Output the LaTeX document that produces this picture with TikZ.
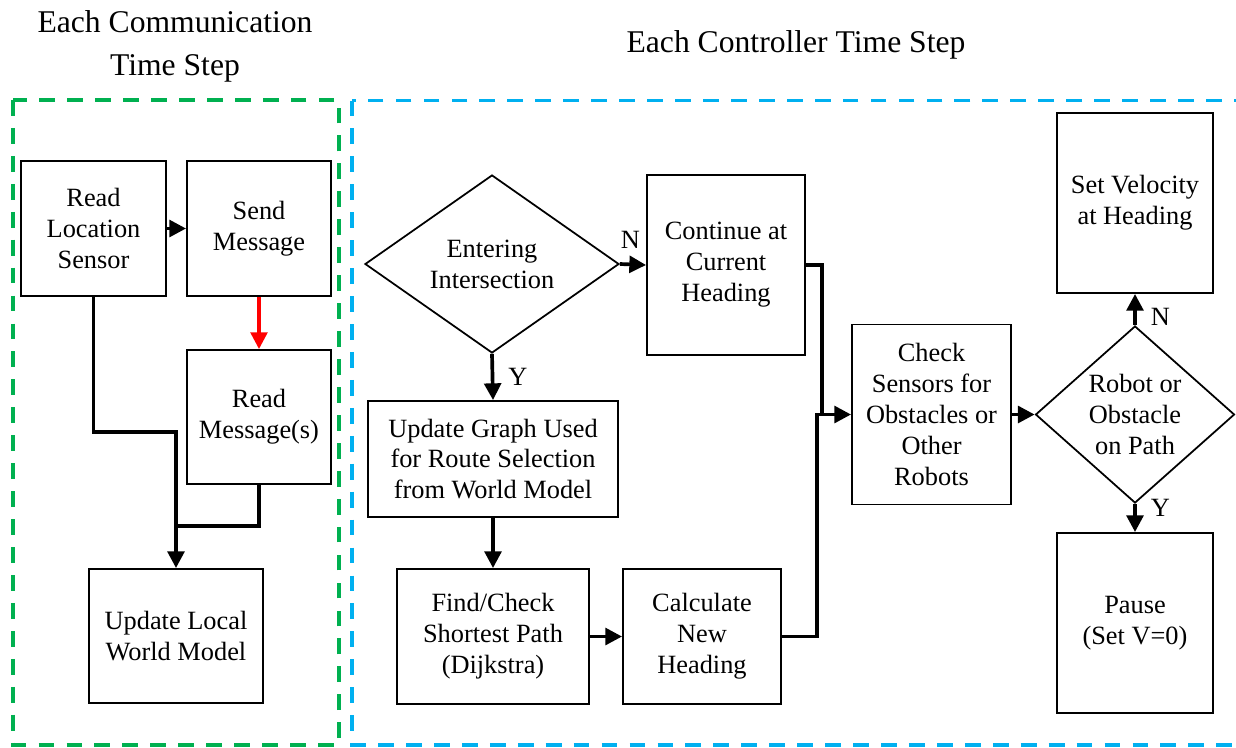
\documentclass[tikz,border=0pt]{standalone}
\usepackage{fontspec}
\setmainfont{Liberation Serif}
\usetikzlibrary{shapes.geometric}
\usetikzlibrary{arrows.meta}
\usetikzlibrary{positioning}
\definecolor{commgreen}{RGB}{0,176,80}
\definecolor{ctrlblue}{RGB}{0,176,240}

\begin{document}
\begin{tikzpicture}[
	box/.style={draw, line width=1.1pt, align=center, inner sep=0pt, font=\fontsize{15}{17.6}\selectfont},
	decision/.style={diamond, draw, line width=1pt, align=center, inner sep=0pt, font=\fontsize{15}{17.6}\selectfont},
	flow/.style={line width=2.1pt, -{Triangle[length=9.5pt,width=9.5pt]}},
	link/.style={line width=2.1pt},
	lbl/.style={inner sep=1pt, font=\fontsize{15}{18}\selectfont},
	title/.style={align=center, inner sep=0pt, font=\fontsize{18}{24.4}\selectfont},
	frame/.style={line width=2pt, dash pattern=on 9pt off 6.9pt}
	]
	\useasboundingbox (0,0) rectangle (24.72,-14.94);
	\clip (0,0) rectangle (24.72,-14.94);

	\draw [frame, commgreen] (0.26,-2.0) rectangle (6.78,-14.9);
	\draw [frame, ctrlblue] (7.04,-2.01) rectangle (25.2,-14.9);
	\node [title] (commtitle) at (3.5,-0.92) {Each Communication\\Time Step};
	\node [title] (ctrltitle) at (15.92,-0.89) {Each Controller Time Step};

	\node [box, minimum width=2.9cm, minimum height=2.7cm] (readloc) at (1.87,-4.57) {Read\\Location\\Sensor};
	\node [box, minimum width=2.88cm, minimum height=2.7cm] (sendmsg) at (5.18,-4.57) {Send\\Message};
	\node [box, minimum width=2.88cm, minimum height=2.68cm] (readmsg) at (5.18,-8.34) {Read\\Message(s)};
	\node [box, minimum width=3.48cm, minimum height=2.68cm] (updlocal) at (3.52,-12.72) {Update Local\\World Model};

	\node [decision, aspect=1.43, minimum width=5.08cm, minimum height=3.56cm] (enter) at (9.84,-5.28) {Entering\\Intersection};
	\node [box, minimum width=3.16cm, minimum height=3.6cm] (cont) at (14.52,-5.3) {Continue at\\Current\\Heading};
	\node [box, minimum width=5.0cm, minimum height=2.32cm] (updgraph) at (9.86,-9.18) {Update Graph Used\\for Route Selection\\from World Model};
	\node [box, minimum width=3.84cm, minimum height=2.7cm] (findpath) at (9.86,-12.73) {Find/Check\\Shortest Path\\(Dijkstra)};
	\node [box, minimum width=3.16cm, minimum height=2.7cm] (calc) at (14.04,-12.73) {Calculate\\New\\Heading};
	\node [box, minimum width=3.18cm, minimum height=3.6cm] (check) at (18.63,-8.29) {Check\\Sensors for\\Obstacles or\\Other\\Robots};
	\node [decision, aspect=1.12, minimum width=3.98cm, minimum height=3.54cm] (robot) at (22.7,-8.29) {Robot or\\Obstacle\\on Path};
	\node [box, minimum width=3.12cm, minimum height=3.6cm] (setvel) at (22.7,-4.06) {Set Velocity\\at Heading};
	\node [box, minimum width=3.12cm, minimum height=3.6cm] (pause) at (22.7,-12.46) {Pause\\(Set V=0)};

	% communication step
	\coordinate (bendloc) at (3.52,-8.64);
	\coordinate (joinmsg) at (3.52,-10.52);
	\draw [flow] (readloc.east) -- (sendmsg.west);
	\draw [flow, red, line width=1.9pt] (sendmsg.south) -- (readmsg.north);
	\draw [flow] (readloc.south) |- (bendloc) -- (updlocal.north);
	\draw [link] (readmsg.south) |- (joinmsg);

	% controller step
	\coordinate (mergecalc) at (16.34,-8.29);
	\coordinate (mergecont) at (16.44,-8.29);
	\draw [flow] (enter.east) -- node [lbl, pos=0.4, above=7pt] {N} (cont.west);
	\draw [flow] (enter.south) -- node [lbl, right=7pt] {Y} (updgraph.north);
	\draw [flow] (updgraph.south) -- (findpath.north);
	\draw [flow] (findpath.east) -- (calc.west);
	\draw [link] (cont.east) -| (mergecont);
	\draw [flow] (calc.east) -| (mergecalc) -- (check.west);
	\draw [flow] (check.east) -- (robot.west);
	\draw [flow] (robot.north) -- node [lbl, pos=0.25, right=7pt] {N} (setvel.south);
	\draw [flow] (robot.south) -- node [lbl, pos=0.15, right=7pt] {Y} (pause.north);
\end{tikzpicture}
\end{document}
